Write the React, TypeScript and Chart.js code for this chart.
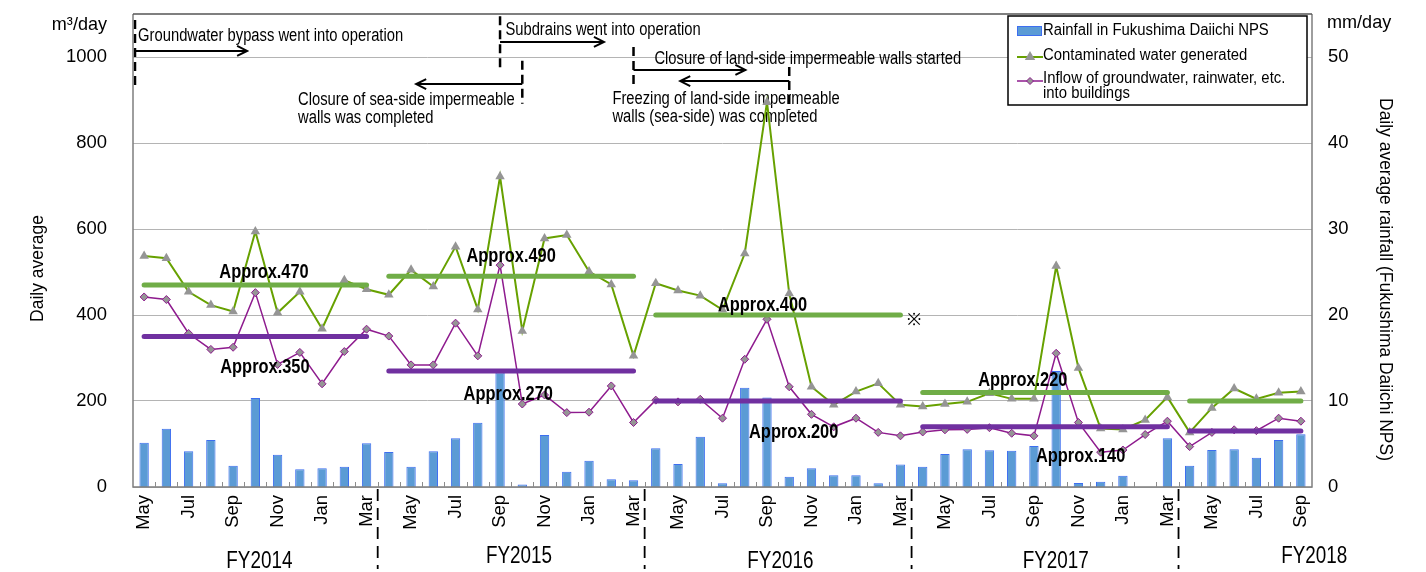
import { useEffect, useRef } from 'react';
import { Chart, registerables } from 'chart.js';

Chart.register(...registerables);

// ---------------- data ----------------
const months = [
  'May', 'Jun', 'Jul', 'Aug', 'Sep', 'Oct', 'Nov', 'Dec', 'Jan', 'Feb', 'Mar',
  'Apr', 'May', 'Jun', 'Jul', 'Aug', 'Sep', 'Oct', 'Nov', 'Dec', 'Jan', 'Feb', 'Mar',
  'Apr', 'May', 'Jun', 'Jul', 'Aug', 'Sep', 'Oct', 'Nov', 'Dec', 'Jan', 'Feb', 'Mar',
  'Apr', 'May', 'Jun', 'Jul', 'Aug', 'Sep', 'Oct', 'Nov', 'Dec', 'Jan', 'Feb', 'Mar',
  'Apr', 'May', 'Jun', 'Jul', 'Aug', 'Sep',
];
const fiscalYears = ['FY2014', 'FY2015', 'FY2016', 'FY2017', 'FY2018'];
const monthsPerFY = [11, 12, 12, 12, 6];

// mm/day
const rainfall = [
  5.15, 6.78, 4.15, 5.47, 2.48, 10.35, 3.76, 2.05, 2.17, 2.36, 5.08,
  4.07, 2.36, 4.15, 5.66, 7.48, 13.3, 0.3, 6.05, 1.78, 3.06, 0.9, 0.78,
  4.5, 2.67, 5.85, 0.43, 11.55, 10.4, 1.2, 2.17, 1.36, 1.36, 0.43, 2.63,
  2.36, 3.84, 4.38, 4.26, 4.22, 4.77, 13.5, 0.47, 0.62, 1.32, 0, 5.66,
  2.48, 4.3, 4.38, 3.41, 5.47, 6.12,
];
// m3/day
const contaminated = [
  537, 532, 454, 423, 408, 594, 405, 454, 368, 481, 460,
  447, 505, 466, 559, 413, 722, 363, 578, 586, 501, 471, 305,
  474, 457, 445, 412, 543, 895, 450, 233, 191, 222, 241, 191,
  187, 193, 198, 218, 205, 205, 514, 277, 136, 134, 156, 209,
  127, 184, 229, 205, 219, 222,
];
const inflow = [
  442, 436, 357, 320, 325, 452, 285, 313, 240, 315, 367,
  351, 284, 284, 381, 305, 516, 193, 214, 173, 174, 235, 150,
  202, 198, 204, 160, 297, 390, 233, 169, 140, 160, 127, 119,
  128, 133, 134, 138, 125, 119, 311, 150, 81, 86, 122, 153,
  94, 127, 133, 131, 160, 153,
];
const avgContaminatedFY = [470, 490, 400, 220, 200];
const avgInflowFY = [350, 270, 200, 140, 130];
const avgContaminatedText = ['Approx.470', 'Approx.490', 'Approx.400', 'Approx.220'];
const avgInflowText = ['Approx.350', 'Approx.270', 'Approx.200', 'Approx.140'];
const leftTicks = [0, 200, 400, 600, 800, 1000];
const rightTicks = [0, 10, 20, 30, 40, 50];
const shownMonths = ['May', 'Jul', 'Sep', 'Nov', 'Jan', 'Mar'];

const legendTexts = [
  ['Rainfall in Fukushima Daiichi NPS'],
  ['Contaminated water generated'],
  ['Inflow of groundwater, rainwater, etc.', 'into buildings'],
];

const events = [
  { at: -0.41, top: 1086, bottom: 928, to: 4.63, arrowY: 1014, textAt: -0.27, textY: 1049, lines: ['Groundwater bypass went into operation'] },
  { at: 16, top: 1095, bottom: 965, to: 20.67, arrowY: 1035, textAt: 16.24, textY: 1063, lines: ['Subdrains went into operation'] },
  { at: 17, top: 991, bottom: 891, to: 12.23, arrowY: 937, textAt: 6.92, textY: 900, lines: ['Closure of sea-side impermeable', 'walls was completed'] },
  { at: 22, top: 1023, bottom: 926, to: 27.03, arrowY: 970, textAt: 22.94, textY: 995, lines: ['Closure of land-side impermeable walls started'] },
  { at: 29, top: 977, bottom: 877, to: 24.1, arrowY: 944, textAt: 21.05, textY: 902, lines: ['Freezing of land-side impermeable', 'walls (sea-side) was completed'] },
];

// ---------------- helpers ----------------
const fyOf: number[] = monthsPerFY.flatMap((n, f) => Array(n).fill(f));
const avgContaminatedMonthly = fyOf.map((f) => avgContaminatedFY[f]);
const avgInflowMonthly = fyOf.map((f) => avgInflowFY[f]);

const FONT = '"Liberation Sans", Arial, sans-serif';
const NARROW = 0.82;

function txt(
  ctx: CanvasRenderingContext2D,
  s: string,
  x: number,
  y: number,
  size: number,
  o: { align?: CanvasTextAlign; baseline?: CanvasTextBaseline; bold?: boolean; rot?: number; sx?: number } = {}
) {
  ctx.save();
  ctx.translate(x, y);
  if (o.rot) ctx.rotate(o.rot);
  ctx.scale(o.sx ?? NARROW, 1);
  ctx.font = `${o.bold ? 'bold ' : ''}${size}px ${FONT}`;
  ctx.textAlign = o.align || 'left';
  ctx.textBaseline = o.baseline || 'middle';
  ctx.fillStyle = '#000';
  ctx.fillText(s, 0, 0);
  ctx.restore();
}

function arrow(ctx: CanvasRenderingContext2D, x1: number, x2: number, y: number) {
  const d = x2 > x1 ? 1 : -1;
  ctx.save();
  ctx.strokeStyle = '#000';
  ctx.lineWidth = 2;
  ctx.setLineDash([]);
  ctx.beginPath();
  ctx.moveTo(x1, y);
  ctx.lineTo(x2, y);
  ctx.moveTo(x2 - d * 10, y - 5);
  ctx.lineTo(x2, y);
  ctx.lineTo(x2 - d * 10, y + 5);
  ctx.stroke();
  ctx.restore();
}

function triangle(ctx: CanvasRenderingContext2D, x: number, y: number, r: number, fill: string) {
  ctx.beginPath();
  ctx.moveTo(x, y - r);
  ctx.lineTo(x + r * 0.866, y + r * 0.5);
  ctx.lineTo(x - r * 0.866, y + r * 0.5);
  ctx.closePath();
  ctx.fillStyle = fill;
  ctx.fill();
}

function diamond(ctx: CanvasRenderingContext2D, x: number, y: number, r: number, fill: string, stroke: string) {
  ctx.beginPath();
  ctx.moveTo(x, y - r);
  ctx.lineTo(x + r, y);
  ctx.lineTo(x, y + r);
  ctx.lineTo(x - r, y);
  ctx.closePath();
  ctx.fillStyle = fill;
  ctx.fill();
  ctx.strokeStyle = stroke;
  ctx.lineWidth = 1;
  ctx.stroke();
}

const GREEN = '#67a100';
const PURPLE = '#8e1b8e';
const MARKER = '#959595';
const BAR_FILL = '#5b9bd5';
const BAR_BORDER = '#3d6ef0';

const decorPlugin = {
  id: 'decor',
  beforeDatasetsDraw(chart: any) {
    const ctx: CanvasRenderingContext2D = chart.ctx;
    const xs = chart.scales.x;
    const ys = chart.scales.y;
    const px = (i: number) => xs.getPixelForValue(i);
    const py = (v: number) => ys.getPixelForValue(v);
    ctx.save();
    for (const e of events) {
      ctx.strokeStyle = '#000';
      ctx.lineWidth = 2.5;
      ctx.setLineDash([9, 5]);
      ctx.beginPath();
      ctx.moveTo(px(e.at), py(e.top));
      ctx.lineTo(px(e.at), py(e.bottom));
      ctx.stroke();
      ctx.setLineDash([]);
      arrow(ctx, px(e.at), px(e.to), py(e.arrowY));
      e.lines.forEach((s, k) => txt(ctx, s, px(e.textAt), py(e.textY) + k * 18, 18));
    }
    ctx.restore();
  },
  afterDatasetsDraw(chart: any) {
    const ctx: CanvasRenderingContext2D = chart.ctx;
    const xs = chart.scales.x;
    const ys = chart.scales.y;
    const y1 = chart.scales.y1;
    const a = chart.chartArea;
    const px = (i: number) => xs.getPixelForValue(i);
    const py = (v: number) => ys.getPixelForValue(v);
    ctx.save();

    // average labels
    const cPos = [[5.39, 498], [16.5, 535], [27.8, 423], [39.5, 247]];
    const iPos = [[5.43, 277], [16.37, 214], [29.2, 126], [42.1, 71]];
    avgContaminatedText.forEach((s, k) => txt(ctx, s, px(cPos[k][0]), py(cPos[k][1]), 20, { bold: true, align: 'center' }));
    avgInflowText.forEach((s, k) => txt(ctx, s, px(iPos[k][0]), py(iPos[k][1]), 20, { bold: true, align: 'center' }));
    txt(ctx, '※', px(34.63), py(387), 17, { align: 'center', sx: 1 });

    // frame
    ctx.strokeStyle = '#7f7f7f';
    ctx.lineWidth = 1.5;
    ctx.beginPath();
    ctx.moveTo(a.left, a.top);
    ctx.lineTo(a.left, a.bottom);
    ctx.lineTo(a.right, a.bottom);
    ctx.lineTo(a.right, a.top);
    ctx.stroke();
    ctx.strokeStyle = '#555';
    ctx.beginPath();
    ctx.moveTo(a.left, a.top);
    ctx.lineTo(a.right, a.top);
    ctx.stroke();

    // month tick marks (inside)
    ctx.strokeStyle = '#8c8c8c';
    ctx.lineWidth = 1;
    for (let i = 1; i < months.length; i++) {
      const x = Math.round(px(i - 0.5)) + 0.5;
      ctx.beginPath();
      ctx.moveTo(x, a.bottom);
      ctx.lineTo(x, a.bottom - 5);
      ctx.stroke();
    }

    // FY separators
    ctx.strokeStyle = '#000';
    ctx.lineWidth = 1.8;
    ctx.setLineDash([12, 7]);
    let cum = 0;
    for (let f = 0; f < monthsPerFY.length - 1; f++) {
      cum += monthsPerFY[f];
      const x = px(cum - 0.5);
      ctx.beginPath();
      ctx.moveTo(x, a.bottom + 2);
      ctx.lineTo(x, a.bottom + 82);
      ctx.stroke();
    }
    ctx.setLineDash([]);

    // month labels
    months.forEach((m, i) => {
      if (!shownMonths.includes(m)) return;
      txt(ctx, m, px(i), a.bottom + 8, 19, { align: 'right', rot: -Math.PI / 2, sx: 0.97 });
    });

    // FY labels
    const fyPos = [[5.18, 562], [16.85, 557], [28.6, 562], [40.98, 562], [52.6, 557]];
    fiscalYears.forEach((s, k) => txt(ctx, s, px(fyPos[k][0]), fyPos[k][1], 23, { align: 'center' }));

    // y tick labels
    leftTicks.forEach((v) => txt(ctx, String(v), a.left - 26, py(v), 19, { align: 'right', sx: 0.97 }));
    rightTicks.forEach((v) => txt(ctx, String(v), a.right + 16, y1.getPixelForValue(v), 19, { align: 'left', sx: 0.97 }));

    // units and titles
    txt(ctx, 'm³/day', a.left - 26, a.top + 11, 19, { align: 'right', sx: 0.95 });
    txt(ctx, 'mm/day', a.right + 15, a.top + 9, 19, { align: 'left', sx: 0.95 });
    txt(ctx, 'Daily average', 38, (a.top + a.bottom) / 2 + 18, 18, { align: 'center', rot: -Math.PI / 2, sx: 0.97 });
    txt(ctx, 'Daily average rainfall (Fukushima Daiichi NPS)', 1385, (a.top + a.bottom) / 2 + 29, 18, { align: 'center', rot: Math.PI / 2, sx: 0.97 });

    // legend
    const L = a.right - 304;
    const T = a.top + 2;
    ctx.fillStyle = '#fff';
    ctx.fillRect(L, T, 299, 89);
    ctx.strokeStyle = '#000';
    ctx.lineWidth = 1.5;
    ctx.strokeRect(L, T, 299, 89);
    ctx.fillStyle = BAR_FILL;
    ctx.fillRect(L + 9, T + 10, 25, 10);
    ctx.strokeStyle = BAR_BORDER;
    ctx.lineWidth = 1;
    ctx.strokeRect(L + 9.5, T + 10.5, 24, 9);
    ctx.strokeStyle = GREEN;
    ctx.lineWidth = 2;
    ctx.beginPath();
    ctx.moveTo(L + 9, T + 41);
    ctx.lineTo(L + 35, T + 41);
    ctx.stroke();
    triangle(ctx, L + 22, T + 41, 6, MARKER);
    ctx.strokeStyle = PURPLE;
    ctx.lineWidth = 1.5;
    ctx.beginPath();
    ctx.moveTo(L + 9, T + 65);
    ctx.lineTo(L + 35, T + 65);
    ctx.stroke();
    diamond(ctx, L + 22, T + 65, 3.5, MARKER, PURPLE);
    const lsx = 0.93;
    txt(ctx, legendTexts[0][0], L + 35, T + 15, 16, { sx: lsx });
    txt(ctx, legendTexts[1][0], L + 35, T + 40, 16, { sx: lsx });
    txt(ctx, legendTexts[2][0], L + 35, T + 63, 16, { sx: lsx });
    txt(ctx, legendTexts[2][1], L + 35, T + 78, 16, { sx: lsx });

    ctx.restore();
  },
};

const crossFY = (c: any) => (fyOf[c.p0DataIndex] !== fyOf[c.p1DataIndex] ? 'rgba(0,0,0,0)' : undefined);

export default function App() {
  const ref = useRef<HTMLCanvasElement>(null);
  useEffect(() => {
    if (!ref.current) return;
    const chart = new Chart(ref.current, {
      type: 'bar',
      data: {
        labels: months,
        datasets: [
          {
            type: 'line',
            label: 'avgInflow',
            data: avgInflowMonthly,
            yAxisID: 'y',
            borderColor: '#7030a0',
            borderWidth: 5,
            borderCapStyle: 'round',
            pointRadius: 0,
            fill: false,
            segment: { borderColor: crossFY },
            order: 1,
          } as any,
          {
            type: 'line',
            label: 'avgContaminated',
            data: avgContaminatedMonthly,
            yAxisID: 'y',
            borderColor: '#70ad47',
            borderWidth: 5,
            borderCapStyle: 'round',
            pointRadius: 0,
            fill: false,
            segment: { borderColor: crossFY },
            order: 2,
          } as any,
          {
            type: 'line',
            label: 'Inflow of groundwater, rainwater, etc. into buildings',
            data: inflow,
            yAxisID: 'y',
            borderColor: PURPLE,
            borderWidth: 1.5,
            pointStyle: 'rectRot',
            pointRadius: 4,
            pointBackgroundColor: MARKER,
            pointBorderColor: PURPLE,
            pointBorderWidth: 1,
            fill: false,
            tension: 0,
            order: 3,
          } as any,
          {
            type: 'line',
            label: 'Contaminated water generated',
            data: contaminated,
            yAxisID: 'y',
            borderColor: GREEN,
            borderWidth: 2,
            pointStyle: 'triangle',
            pointRadius: 5.5,
            pointBackgroundColor: MARKER,
            pointBorderColor: MARKER,
            pointBorderWidth: 0,
            fill: false,
            tension: 0,
            order: 4,
          } as any,
          {
            type: 'bar',
            label: 'Rainfall in Fukushima Daiichi NPS',
            data: rainfall,
            yAxisID: 'y1',
            backgroundColor: BAR_FILL,
            borderColor: BAR_BORDER,
            borderWidth: 1,
            barPercentage: 0.42,
            categoryPercentage: 1,
            order: 5,
          } as any,
        ],
      },
      options: {
        responsive: false,
        animation: false,
        devicePixelRatio: 1,
        events: [],
        layout: { padding: { top: 14, left: 0, right: 0, bottom: 0 } },
        plugins: { legend: { display: false }, tooltip: { enabled: false } },
        scales: {
          x: {
            offset: true,
            grid: { display: false },
            border: { display: false },
            ticks: { display: false },
            afterFit: (s: any) => { s.height = 85; },
          },
          y: {
            position: 'left',
            min: 0,
            max: 1100,
            ticks: { display: false, stepSize: 200 },
            grid: {
              color: (c: any) => (c.tick && c.tick.value > 1000 ? 'rgba(0,0,0,0)' : '#b4b4b4'),
              drawTicks: false,
              lineWidth: 1,
            },
            border: { display: false },
            afterFit: (s: any) => { s.width = 133; },
          },
          y1: {
            position: 'right',
            min: 0,
            max: 55,
            ticks: { display: false, stepSize: 10 },
            grid: { display: false, drawTicks: false },
            border: { display: false },
            afterFit: (s: any) => { s.width = 114; },
          },
        },
      } as any,
      plugins: [decorPlugin],
    });
    return () => chart.destroy();
  }, []);
  return (
    <div style={{ position: 'fixed', left: 0, top: 0, width: 1426, height: 572, background: '#fff' }}>
      <canvas ref={ref} width={1426} height={572} style={{ width: 1426, height: 572, display: 'block' }} />
    </div>
  );
}
